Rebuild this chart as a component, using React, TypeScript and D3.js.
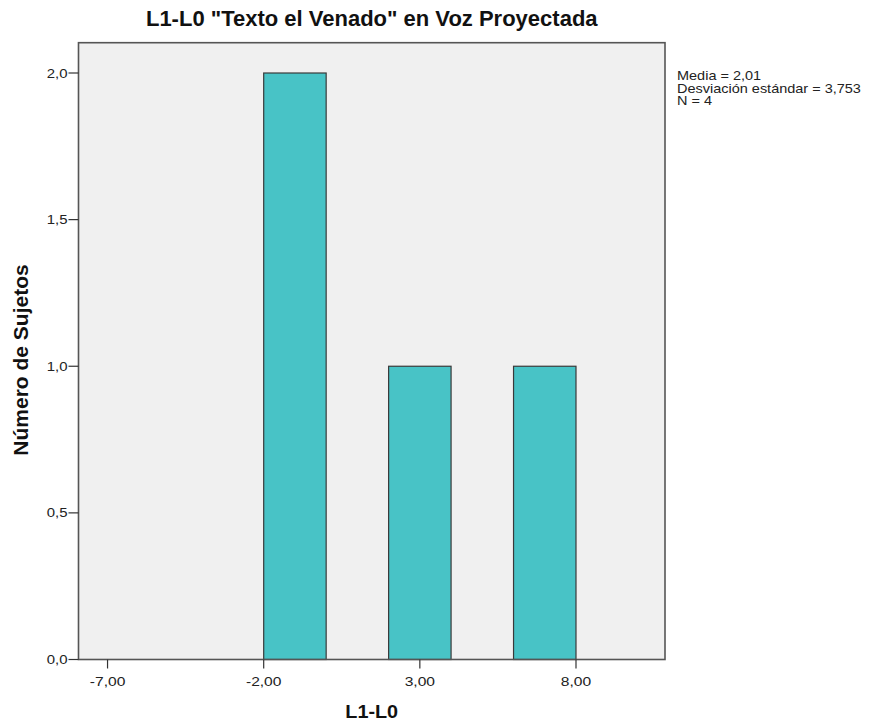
import React from "react";
import * as d3 from "d3";

const binStarts = [-2, 2, 6];
const binWidth = 2;
const counts = [2, 1, 1];
const xTicks = [-7, -2, 3, 8];
const yTicks = [0, 0.5, 1, 1.5, 2];
const statLines = ["Media = 2,01", "Desviación estándar = 3,753", "N = 4"];
const title = 'L1-L0 "Texto el Venado" en Voz Proyectada';
const xLabel = "L1-L0";
const yLabel = "Número de Sujetos";

const W = 876;
const H = 723;
const left = 78.5;
const right = 665;
const top = 42.7;
const bottom = 659.5;

export default function App() {
  const x = d3.scaleLinear().domain([-7.93, 10.85]).range([left, right]);
  const y = d3.scaleLinear().domain([0, 2]).range([bottom, 73]);
  const fmt1 = (v: number) => v.toFixed(1).replace(".", ",");
  const fmt2 = (v: number) => v.toFixed(2).replace(".", ",");
  const font = "'Liberation Sans', Arial, sans-serif";
  const cx = (left + right) / 2;
  return (
    <svg width={W} height={H} style={{ position: "absolute", left: 0, top: 0, background: "#fff" }} fontFamily={font}>
      <rect x={left} y={top} width={right - left} height={bottom - top} fill="#F0F0F0" />
      {binStarts.map((b, i) => (
        <rect
          key={i}
          x={x(b)}
          y={y(counts[i])}
          width={x(b + binWidth) - x(b)}
          height={y(0) - y(counts[i])}
          fill="#48C3C6"
          stroke="#3a3a3a"
          strokeWidth={1.2}
        />
      ))}
      <rect x={left} y={top} width={right - left} height={bottom - top} fill="none" stroke="#555" strokeWidth={1.6} />
      {yTicks.map((t) => (
        <g key={t}>
          <line x1={left - 10} x2={left} y1={y(t)} y2={y(t)} stroke="#333" strokeWidth={1.2} />
          <text transform={`translate(${left - 11},${y(t) + 4.5}) scale(1.15,1)`} textAnchor="end" fontSize={13} fill="#222">{fmt1(t)}</text>
        </g>
      ))}
      {xTicks.map((t) => (
        <g key={t}>
          <line x1={x(t)} x2={x(t)} y1={bottom} y2={bottom + 9} stroke="#333" strokeWidth={1.2} />
          <text transform={`translate(${x(t)},686) scale(1.2,1)`} textAnchor="middle" fontSize={13} fill="#222">{fmt2(t)}</text>
        </g>
      ))}
      <text x={cx} y={26} textAnchor="middle" fontSize={22} fontWeight="bold" fill="#111">{title}</text>
      <text transform={`translate(${cx},718) scale(1.1,1)`} textAnchor="middle" fontSize={18} fontWeight="bold" fill="#111">{xLabel}</text>
      <text transform={`translate(28,360) rotate(-90)`} textAnchor="middle" fontSize={21} fontWeight="bold" fill="#111">{yLabel}</text>
      {statLines.map((s, i) => (
        <text key={i} transform={`translate(677,${80 + i * 12.5}) scale(1.16,1)`} fontSize={12.5} fill="#222">{s}</text>
      ))}
    </svg>
  );
}
